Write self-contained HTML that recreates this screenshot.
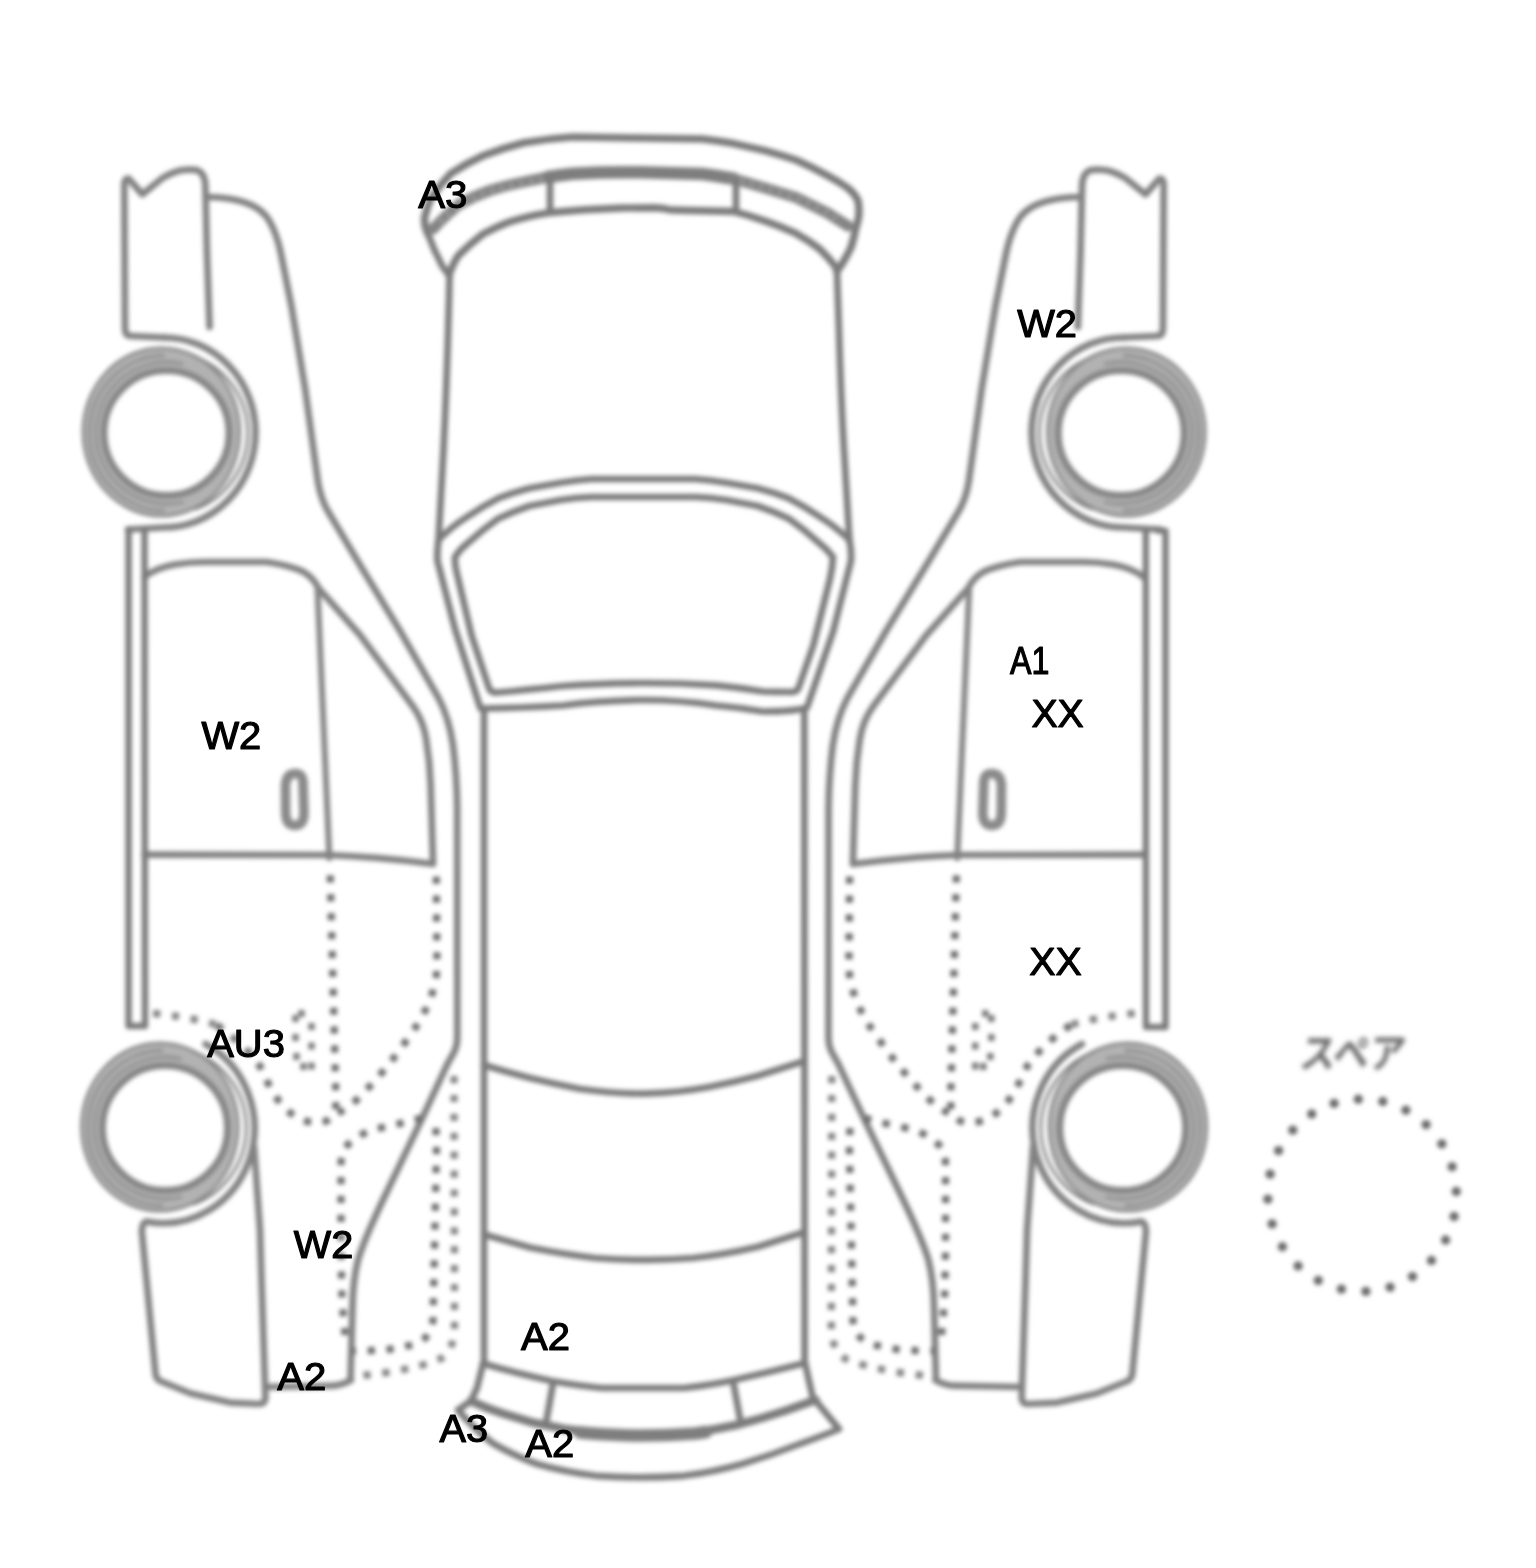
<!DOCTYPE html>
<html lang="ja">
<head>
<meta charset="utf-8">
<title>Car condition diagram</title>
<style>
  html, body { margin: 0; padding: 0; background: #ffffff; }
  body { width: 1536px; height: 1568px; overflow: hidden; position: relative; }
  svg { position: absolute; left: 0; top: 0; display: block; }
  .ln { fill: none; stroke: #7b7b7b; stroke-width: 6.7; stroke-linecap: round; stroke-linejoin: round; }
  #side .ln { stroke: #828282; }
  .dk { fill: none; stroke: #6f6f6f; stroke-width: 5; stroke-linecap: round; stroke-linejoin: round; }
  .dot { fill: none; stroke: #707070; stroke-width: 7.2; stroke-linecap: butt; stroke-linejoin: round; stroke-dasharray: 7.2 11.7; }
  .dot2 { fill: none; stroke: #868686; stroke-width: 7.2; stroke-linecap: butt; stroke-linejoin: round; stroke-dasharray: 7.2 11.7; }
  .lbl { font-family: "Liberation Sans", sans-serif; font-size: 39.3px; fill: #000; stroke: #000; stroke-width: 1.2px; stroke-linejoin: round; }
  .jp { font-family: "Liberation Sans", "Noto Sans CJK JP", sans-serif; font-size: 41px; font-weight: 700; fill: #6c6c6c; }
</style>
</head>
<body>
<svg width="1536" height="1568" viewBox="0 0 1536 1568">
  <defs>
    <filter id="soft" x="-5%" y="-5%" width="110%" height="110%"><feGaussianBlur stdDeviation="2.1"/></filter>
    <filter id="soft2" x="-20%" y="-20%" width="140%" height="140%"><feGaussianBlur stdDeviation="2.2"/></filter>
    <filter id="soft3" x="-20%" y="-40%" width="140%" height="180%"><feGaussianBlur stdDeviation="2.6"/></filter>

    <!-- one tyre, centred on 0,0 -->
    <g id="tyre">
      <path fill="#b2b2b2" fill-rule="evenodd" stroke="#838383" stroke-width="2.8" d="M-83.5,-1 A78.4,84 0 1 1 73.3,-1 A78.4,84 0 1 1 -83.5,-1 Z M-60.5,0 A60.5,60.5 0 1 0 60.5,0 A60.5,60.5 0 1 0 -60.5,0 Z"/>
      <!-- tread rings -->
      <circle r="63.5" fill="none" stroke="#868686" stroke-width="5"/>
      <path d="M17,-69 A71,71 0 1 0 17,69" fill="none" stroke="#8a8a8a" stroke-width="2.8"/>
      <path d="M-2,-77.5 A75,77.5 0 1 0 -2,77.5" fill="none" stroke="#8a8a8a" stroke-width="2.8"/>
      <!-- outer ring visible on the arch side -->
      <path d="M27.8,-76.4 A81.3,81.3 0 0 1 27.8,76.4" fill="none" stroke="#848484" stroke-width="3"/>
    </g>

    <!-- side view of the car (left one); the right one is a mirror copy -->
    <g id="side">
      <!-- front bumper -->
      <path class="ln" d="M209.6,327 L207,254 L205.6,196 L205.3,184 Q204,171 195,169.8 Q185,169 178,171 Q170,173.5 162.5,178 L142.3,194.3 L128.5,178.5 Q124.3,178.5 124.3,185 L125,329 Q125.3,336 131,336 L164,337.5"/>
      <!-- front wheel arch -->
      <path class="ln" d="M164,337.5 A91.5,95 0 0 1 164,527.5 L128,529.5"/>
      <!-- fender top, A pillar, roof edge, C pillar -->
      <path class="ln" d="M206,197 Q225,197 240,201 Q262,207 270,222 Q277.5,236 281,254 L291.4,306 L305,388 L318,482 Q321,500 329,513 L360,565 L399.5,630 L438.5,698 Q449,718 453,745 Q456.8,775 457.2,808 L457.3,1036 Q457.5,1047 452.5,1055 L447.5,1063.8 L422,1118.6 L382.5,1201 Q364,1240 358,1260 Q353,1280 352.5,1306 L350.5,1380"/>
      <!-- door window frame -->
      <path class="ln" d="M144.5,577 Q155,568 175,564.5 Q190,562 204,562 L266.7,562 Q290,565.5 303,571.6 Q313,577 318.75,588.5 L360,635 L412.5,705.7 Q423,720 426,738 Q430,762 430.7,786 L433,862"/>
      <path class="ln" style="stroke:#858585;stroke-width:6" d="M317.5,588.5 L329.4,858"/>
      <!-- belt line -->
      <path class="ln" d="M144.5,854.6 L329,855 Q380,857 433,864"/>
      <!-- door handle -->
      <path class="dk" d="M295.5,773.5 Q303,773.5 303,783 L304,813 Q304,825.5 295,825.5 Q286,825.5 285.7,813 L285.5,786 Q286,773.5 295.5,773.5 Z" style="stroke-width:9.6;stroke:#8a8a8a"/>
      <!-- tyres -->
      <use href="#tyre" x="166.5" y="433"/>
      <use href="#tyre" x="165" y="1128"/>
      <!-- rear wheel arch + rear bumper -->
      <path class="ln" d="M205.5,1044 A91.5,95 0 0 1 146.6,1221.6 Q141.5,1223 142,1233 L155.5,1374 Q156,1379 160,1381 L191,1393.5 L230,1402.6 L258.9,1404 Q265,1404 265.4,1398 L261.5,1280 L260,1230 L255,1160 L254,1146"/>
      <path class="ln" d="M266,1387 L334,1385.7 Q345,1384 351,1380"/>
      <!-- dotted inner structure -->
      <path class="dot" d="M330.2,875.3 L336,1100 Q336.5,1119 322,1122.5 Q300,1124 285,1108 Q272,1095 262.7,1071 Q250,1048 215.8,1024.5"/>
      <path class="dot2" d="M215.8,1024.5 Q185,1016 148,1013"/>
      <path class="dot" d="M436.3,876.6 L437,967 Q436,1000 408.5,1037.5 Q385,1072 356.5,1100 Q347,1109 338,1113"/>
      <g fill="#7c7c7c"><rect x="292.3" y="1015.0" width="6.4" height="7"/><rect x="292.3" y="1034.0" width="6.4" height="7"/><rect x="293.3" y="1053.0" width="6.4" height="7"/><rect x="298.3" y="1010.0" width="6.4" height="7"/><rect x="308.3" y="1023.0" width="6.4" height="7"/><rect x="308.3" y="1042.5" width="6.4" height="7"/><rect x="308.3" y="1062.5" width="6.4" height="7"/><rect x="300.3" y="1063.0" width="6.4" height="7"/></g>
      <path class="dot" d="M421.6,1118 Q400,1124 377,1128.6 Q355,1135 345,1148 Q341,1155 341,1165 L341,1250 L342,1300 L345,1335"/>
      <path class="dot" d="M436,1128 L436.5,1150 L433,1320 Q431,1340 412,1345 L386,1350 L352,1351"/>
      <path class="dot2" d="M454,1076 L454.5,1330 Q453,1352 440,1359 Q425,1366 386.5,1372.6 L355,1376.5"/>
    </g>
  </defs>

  <g filter="url(#soft)">
    <use href="#side"/>
    <use href="#side" transform="translate(1288.8,0) scale(-1.0066,1)"/>
    <!-- sills -->
    <path class="ln" style="stroke-width:6.4" d="M128.6,529.5 L128.6,1026 L145,1026 L144.5,529.5"/>
    <path class="ln" style="stroke-width:6.4" d="M1165.5,531 L1165.5,1027 L1146,1027 L1145.8,531 M1158,530.5 L1165.5,531"/>
    <!-- top view: front bumper -->
    <path class="ln" style="stroke-width:7.6" d="M428,234 Q424,226 424.6,217.7 Q427,207 431,198 Q440,185 450.7,173.7 Q466,163.5 483,155.8 Q503,148 524,142.8 Q548,138.5 572.8,137 Q605,137.5 638,138 L702.5,139 Q718,140.5 733.75,143.6 L765,150.6 Q781,155 796,160 Q812,167 827.5,175.6 Q838,181 847.8,188 Q855,194 858,200.6 Q859.5,208 858.75,216 Q858,222 855.6,228.75 Q854,238 851,247.5 Q847,256 841.5,264.7 L837,271"/>
    <path class="ln" d="M428,234 L434.4,250 L442.5,266.5 L449.5,276"/>
    <!-- grille band -->
    <path class="ln" style="stroke:#848484;stroke-width:11" d="M433,229 Q444,217 458.8,204.6 Q474,196 491.4,190 Q507,185 524,181.8 L548.3,177"/>
    <path class="ln" style="stroke:#7e7e7e;stroke-width:12.5" d="M548.3,177 Q560,175 572.8,173.7 Q605,172 640,172.3 L702.5,174 Q718,176 733.75,178.75"/>
    <path class="ln" style="stroke:#848484;stroke-width:11" d="M733.75,178.75 L765,188 L796,197.5 L827.5,213 L848,226"/>
    <path fill="none" stroke="#9c9c9c" stroke-width="4" stroke-dasharray="4 6" d="M440,222.5 Q449,213.5 460,205 Q475,196.5 492,190.5 Q508,185.5 525,182 L544,178.4"/>
    <path fill="none" stroke="#9c9c9c" stroke-width="4" stroke-dasharray="4 6" d="M740,180.5 L765,188 L796,197.5 L827.5,213 L842,222"/>
    <!-- hood leading edge -->
    <path class="ln" style="stroke-width:7.4" d="M449.5,274 Q453,263 458.8,255 Q470,244 483,234 Q495,227.5 507.7,222.5 Q527,216 548.3,212.8 Q585,209 621.6,208 L655,207.8 Q664,208.3 671,210 L733.75,211.5 Q750,215.5 765,221 Q781,226.5 796,233.4 Q809,240.5 819.7,249 Q828,257 835,266 L837,271"/>
    <!-- plate -->
    <path class="ln" d="M550,180 L550,212.5 M736,181 L736,211.5"/>
    <!-- hood sides -->
    <path class="ln" d="M449.5,276 L449,300 Q447,380 443.5,450 L438.5,540"/>
    <path class="ln" d="M837,271 L837.6,290 L839,330 Q841,400 844,450 L849.5,541"/>
    <!-- windscreen outer -->
    <path class="ln" d="M438.5,540 Q451,527 466.9,517 Q482,506.5 498,498.4 Q513,492.5 529.4,488.3 L560.6,482.8 Q576,480 592,479 L695,479 Q711,480 726.4,482.8 L757.6,488.3 Q774,492.5 789,498.4 Q805,506.5 820.1,517 Q836,527 849.5,540 Q851.5,550 851,560.7 L833,632 L807,707.5 Q795,711.5 763,711.5 Q740,707.5 716,705.5 Q680,700 644,700 Q600,700.5 562.8,705.5 Q520,708 480.5,708.5 L455,629 L437.4,560.7 Q437,550 438.5,540 Z"/>
    <!-- windscreen inner -->
    <path class="ln" d="M455,557 Q460,549 467,543.75 Q482,530 498,518.75 Q513,511.5 529.4,506 L560.6,500 Q576,497.5 592,497 L695,497 Q711,497.5 726.4,500 L757.6,506 Q774,511.5 789,518.75 Q805,530 820,543.75 Q827,549 833,557 Q832.5,568 829.7,580 L813.4,645 L798.5,688 Q797,692.5 790,692 Q775,692 763,691.5 Q740,687.5 716,685.3 Q680,683 644,683 Q600,683.3 562.8,686 Q525,690 497,692.5 Q490.5,693 489,688 L471.6,635.5 L457,573.7 Q454.5,565 455,557 Z"/>
    <!-- roof -->
    <path class="ln" d="M484,709 L484,1364 M804.3,709 L804.6,1363"/>
    <path class="ln" d="M484,1065 Q505,1071.5 530,1078 Q555,1084 579,1088.8 Q610,1093.5 644,1093.7 Q680,1092.5 709,1087 Q735,1082 758,1075.8 L804.6,1061"/>
    <path class="ln" d="M484,1234.5 Q505,1240.5 530,1247.5 Q565,1254.5 595,1258 Q620,1260 644,1259.8 Q670,1260 693,1258 Q725,1254.5 758,1246.7 L804.6,1232"/>
    <!-- back window / rear bumper -->
    <path class="ln" d="M483,1363.5 Q515,1373 551.8,1381 Q580,1386 601.6,1388 L683.7,1388 Q712,1385 736.4,1379.5 Q770,1372 805,1363"/>
    <path class="ln" d="M483,1364 L477,1388 L471,1401 L458,1410 Q474,1429 493,1443.5 Q515,1456 537,1464 Q565,1472 595.8,1475.8 Q620,1477.3 640,1477.3 Q662,1477.3 683.7,1475.8 Q714,1472 742,1464 Q772,1455 800.9,1443.5 Q822,1436 839,1429 L815.5,1400.5 L812.6,1396.7 L805,1363"/>
    <path class="ln" d="M553,1383.5 L546,1423 M733.5,1383.5 L740.8,1423"/>
    <path class="ln" style="stroke:#7c7c7c;stroke-width:8.6" d="M471,1401 Q486,1408 502.5,1413.4 L533.75,1422.8 L565,1429 Q580,1431 596,1432.5 M691,1432.5 Q714,1430 736.4,1425 Q762,1418.5 786,1410.5 L815.5,1400"/>
    <path class="ln" style="stroke:#7e7e7e;stroke-width:12.5" d="M580,1432.5 L592,1433.5 Q620,1435.5 643,1435.5 Q668,1435.5 695,1433.5 L706,1432"/>
  </g>

  <!-- spare wheel -->
  <g filter="url(#soft2)" fill="#6a6a6a">
    <circle cx="1358.3" cy="1099.2" r="4.7"/>
    <circle cx="1382.8" cy="1101.5" r="4.7"/>
    <circle cx="1405.9" cy="1110.1" r="4.7"/>
    <circle cx="1426.1" cy="1124.6" r="4.7"/>
    <circle cx="1441.8" cy="1143.9" r="4.7"/>
    <circle cx="1452.1" cy="1166.7" r="4.7"/>
    <circle cx="1456.3" cy="1191.5" r="4.7"/>
    <circle cx="1454.1" cy="1216.5" r="4.7"/>
    <circle cx="1445.6" cy="1240.0" r="4.7"/>
    <circle cx="1431.4" cy="1260.5" r="4.7"/>
    <circle cx="1412.5" cy="1276.6" r="4.7"/>
    <circle cx="1390.1" cy="1287.2" r="4.7"/>
    <circle cx="1365.9" cy="1291.4" r="4.7"/>
    <circle cx="1341.4" cy="1289.1" r="4.7"/>
    <circle cx="1318.3" cy="1280.5" r="4.7"/>
    <circle cx="1298.1" cy="1266.0" r="4.7"/>
    <circle cx="1282.4" cy="1246.7" r="4.7"/>
    <circle cx="1272.1" cy="1223.9" r="4.7"/>
    <circle cx="1267.9" cy="1199.1" r="4.7"/>
    <circle cx="1270.1" cy="1174.1" r="4.7"/>
    <circle cx="1278.6" cy="1150.6" r="4.7"/>
    <circle cx="1292.8" cy="1130.1" r="4.7"/>
    <circle cx="1311.7" cy="1114.0" r="4.7"/>
    <circle cx="1334.1" cy="1103.4" r="4.7"/>
  </g>
  <g filter="url(#soft3)">
    <text class="jp" x="1298.5" y="1068.5" transform="translate(1298.5,1068.5) skewX(-7) translate(-1298.5,-1068.5)" textLength="105" lengthAdjust="spacingAndGlyphs">スペア</text>
  </g>

  <!-- labels -->
  <text class="lbl" x="418.2" y="208.4" textLength="49.3" lengthAdjust="spacingAndGlyphs">A3</text>
  <text class="lbl" x="1017.2" y="336.5" textLength="59.8" lengthAdjust="spacingAndGlyphs">W2</text>
  <text class="lbl" x="1010.0" y="673.7" textLength="39.4" lengthAdjust="spacingAndGlyphs">A1</text>
  <text class="lbl" x="1031.4" y="726.7" textLength="52.4" lengthAdjust="spacingAndGlyphs">XX</text>
  <text class="lbl" x="201.4" y="748.7" textLength="59.9" lengthAdjust="spacingAndGlyphs">W2</text>
  <text class="lbl" x="1029.2" y="974.5" textLength="52.5" lengthAdjust="spacingAndGlyphs">XX</text>
  <text class="lbl" x="207.2" y="1056.5" textLength="77.7" lengthAdjust="spacingAndGlyphs">AU3</text>
  <text class="lbl" x="293.8" y="1257.5" textLength="59.5" lengthAdjust="spacingAndGlyphs">W2</text>
  <text class="lbl" x="521.1" y="1350.3" textLength="48.9" lengthAdjust="spacingAndGlyphs">A2</text>
  <text class="lbl" x="277.3" y="1389.5" textLength="49.1" lengthAdjust="spacingAndGlyphs">A2</text>
  <text class="lbl" x="439.4" y="1442.3" textLength="48.6" lengthAdjust="spacingAndGlyphs">A3</text>
  <text class="lbl" x="525.3" y="1457.4" textLength="48.9" lengthAdjust="spacingAndGlyphs">A2</text>
</svg>
</body>
</html>
